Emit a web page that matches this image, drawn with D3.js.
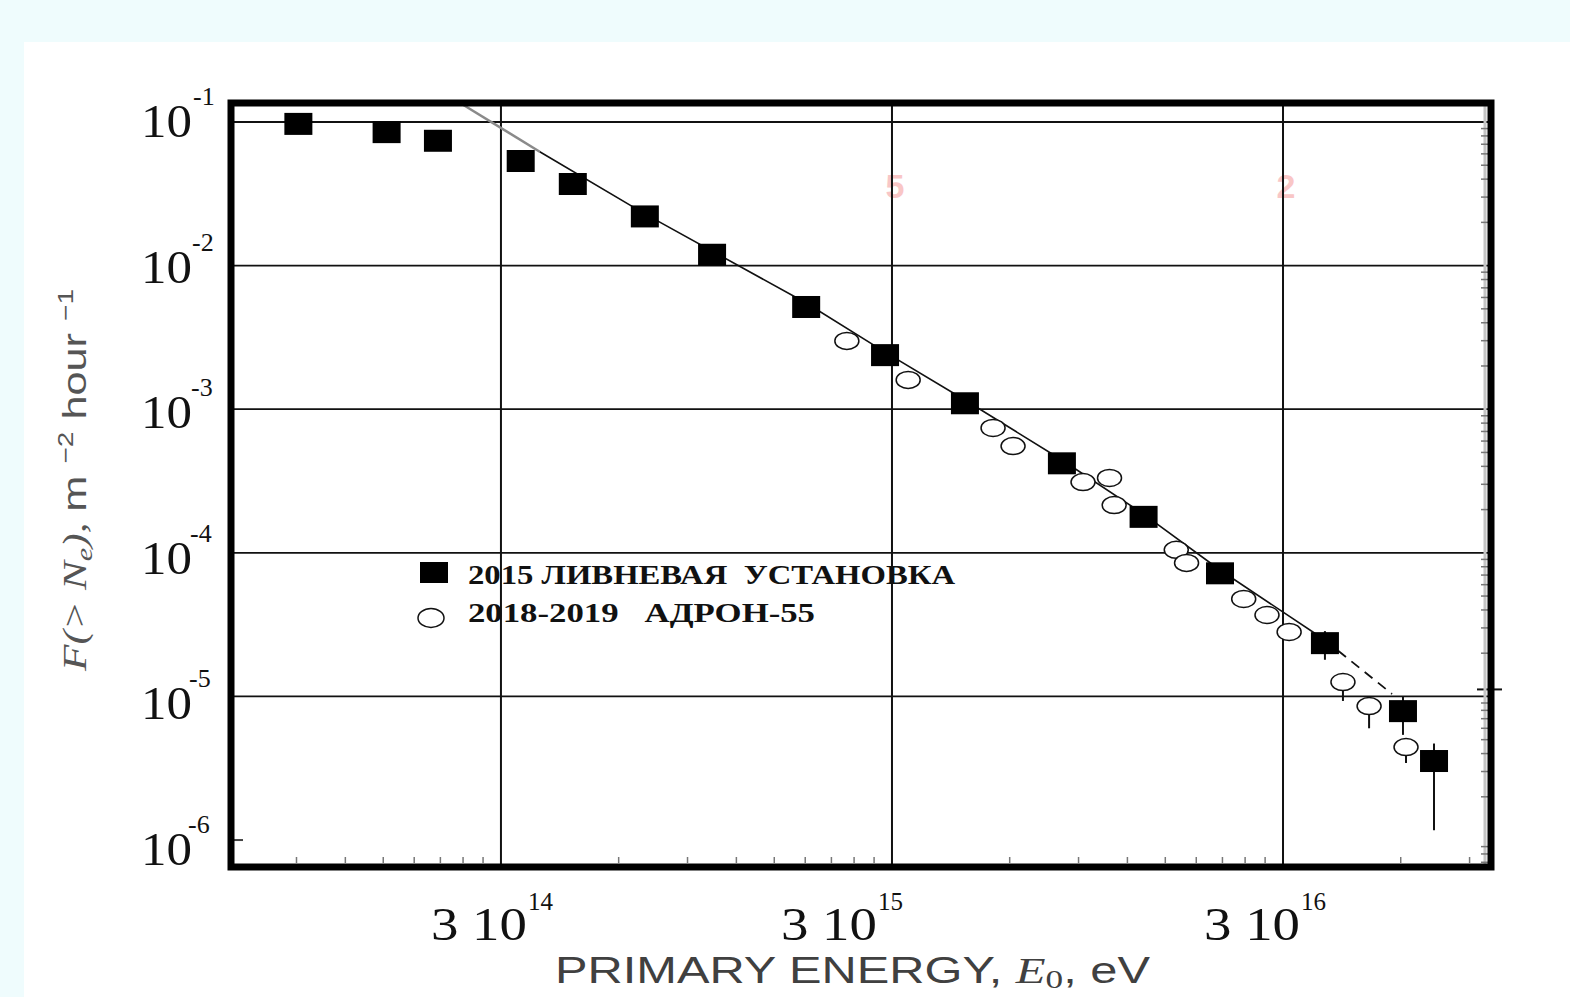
<!DOCTYPE html>
<html>
<head>
<meta charset="utf-8">
<script src="https://cdn.jsdelivr.net/npm/d3@7"></script>
<style>
body { margin: 0; background: #effcfd; }
svg { display: block; }
</style>
</head>
<body>
<svg id="chart" width="1570" height="997"></svg>
<script>
"use strict";
//2015 shower array (filled squares)
var showerE = [9.1e13, 1.53e14, 2.07e14, 3.37e14, 4.58e14, 7.0e14, 1.04e15, 1.81e15, 2.88e15,
	4.61e15, 8.16e15, 1.32e16, 2.07e16, 3.84e16, 6.08e16, 7.3e16];
var showerF = [9.7e-2, 8.5e-2, 7.4e-2, 5.35e-2, 3.7e-2, 2.2e-2, 1.19e-2, 5.15e-3, 2.38e-3,
	1.10e-3, 4.2e-4, 1.78e-4, 7.2e-5, 2.35e-5, 7.9e-6, 3.55e-6];
var showerErrHi = [null, null, null, null, null, null, null, null, null,
	null, null, null, null, 2.85e-5, 1.0e-5, 4.7e-6];
var showerErrLo = [null, null, null, null, null, null, null, null, null,
	null, null, null, null, 1.8e-5, 5.4e-6, 1.17e-6];

//2018-2019 hadron-55 (open circles)
var hadronE = [2.30e15, 3.30e15, 5.44e15, 6.12e15, 9.24e15, 1.08e16, 1.11e16, 1.60e16,
	1.70e16, 2.38e16, 2.73e16, 3.11e16, 4.27e16, 4.98e16, 6.19e16];
var hadronF = [2.99e-3, 1.60e-3, 7.4e-4, 5.54e-4, 3.11e-4, 3.32e-4, 2.15e-4, 1.05e-4,
	8.5e-5, 4.77e-5, 3.69e-5, 2.81e-5, 1.26e-5, 8.57e-6, 4.44e-6];
var hadronErrLo = [null, null, null, null, null, null, null, null,
	null, null, null, null, 9.3e-6, 6.0e-6, 3.44e-6];

//fitted spectrum line (last piece dashed)
var fitE = [2.36e14, 3.77e14, 7.0e14, 1.81e15, 2.88e15, 4.61e15, 8.16e15, 1.32e16, 2.07e16, 3.84e16, 5.7e16];
var fitF = [0.1356, 6.2e-2, 2.29e-2, 5.49e-3, 2.50e-3, 1.16e-3, 4.43e-4, 1.86e-4, 7.59e-5, 2.47e-5, 1.04e-5];

var yTicks = [1e-1, 1e-2, 1e-3, 1e-4, 1e-5, 1e-6];
var yTickExp = ["-1", "-2", "-3", "-4", "-5", "-6"];
var xTicks = [3e14, 3e15, 3e16];
var xTickExp = ["14", "15", "16"];

var legendLabels = ["2015 ЛИВНЕВАЯ  УСТАНОВКА", "2018-2019   АДРОН-55"];

var svg = d3.select('#chart');
var serif = "'Liberation Serif', 'Times New Roman', serif";
var sans = "'Liberation Sans', Arial, sans-serif";

var x = d3.scaleLog().domain([6.12e13, 1.021e17]).range([231, 1491]);
var y = d3.scaleLog().domain([6.49e-7, 0.1356]).range([867, 103]);

//white sheet on the cyan slide
svg.append('rect')
	.attr('x', 24).attr('y', 42)
	.attr('width', 1546).attr('height', 955)
	.style('fill', '#ffffff');

//faint red marks left over from the scan
svg.selectAll('.scanMark').data([["5", 3e15], ["2", 3e16]]).enter().append('text')
	.attr('x', function(d){ return x(d[1]) + 3; })
	.attr('y', 198)
	.attr('text-anchor', 'middle')
	.style('font-family', sans)
	.style('font-weight', 'bold')
	.style('font-size', '34px')
	.style('fill', '#f7b4b4')
	.style('opacity', 0.75)
	.text(function(d){ return d[0]; });

//grid
svg.selectAll('.hGrid').data(yTicks.slice(0, 5)).enter().append('line')
	.attr('x1', 231).attr('x2', 1491)
	.attr('y1', function(d){ return y(d); })
	.attr('y2', function(d){ return y(d); })
	.style('stroke', '#111').style('stroke-width', 1.8);
svg.append('line')
	.attr('x1', 231).attr('x2', 243)
	.attr('y1', y(1e-6)).attr('y2', y(1e-6))
	.style('stroke', '#444').style('stroke-width', 2);
svg.append('line')
	.attr('x1', 1477).attr('x2', 1502)
	.attr('y1', y(1e-5) - 7).attr('y2', y(1e-5) - 7)
	.style('stroke', '#111').style('stroke-width', 2);
svg.selectAll('.vGrid').data(xTicks).enter().append('line')
	.attr('x1', function(d){ return x(d); })
	.attr('x2', function(d){ return x(d); })
	.attr('y1', 103).attr('y2', 867)
	.style('stroke', '#111').style('stroke-width', 2);

//minor ticks along the bottom and the right side
var xMinor = [];
[3e13, 3e14, 3e15, 3e16].forEach(function(b){
	for(var k = 2; k <= 9; k++){
		if(b * k > 6.3e13 && b * k < 1e17) xMinor.push(b * k);
	}
});
svg.selectAll('.xMinor').data(xMinor).enter().append('line')
	.attr('x1', function(d){ return x(d); })
	.attr('x2', function(d){ return x(d); })
	.attr('y1', 863).attr('y2', 857)
	.style('stroke', '#777').style('stroke-width', 1.5);
var yMinor = [];
[1e-7, 1e-6, 1e-5, 1e-4, 1e-3, 1e-2, 1e-1].forEach(function(b){
	for(var k = 2; k <= 9; k++){
		if(b * k > 6.6e-7 && b * k < 0.13) yMinor.push(b * k);
	}
});
svg.append('line')
	.attr('x1', 1485).attr('x2', 1485)
	.attr('y1', 106).attr('y2', 864)
	.style('stroke', '#c4c4c4').style('stroke-width', 3);
svg.selectAll('.yMinor').data(yMinor).enter().append('line')
	.attr('x1', 1481).attr('x2', 1488)
	.attr('y1', function(d){ return y(d); })
	.attr('y2', function(d){ return y(d); })
	.style('stroke', '#777').style('stroke-width', 1.5);

//fit line: grey start, solid body, dashed tail
var fitPts = fitE.map(function(e, i){ return [x(e), y(fitF[i])]; });
var lineGen = d3.line();
svg.append('path')
	.attr('d', lineGen(fitPts.slice(0, 2)))
	.style('fill', 'none').style('stroke', '#8a8a8a').style('stroke-width', 2.5);
svg.append('path')
	.attr('d', lineGen(fitPts.slice(1, fitPts.length - 1)))
	.style('fill', 'none').style('stroke', '#111').style('stroke-width', 1.6);
svg.append('path')
	.attr('d', lineGen(fitPts.slice(fitPts.length - 2)))
	.style('fill', 'none').style('stroke', '#111').style('stroke-width', 1.8)
	.style('stroke-dasharray', '10,7');

//error bars
showerE.forEach(function(e, i){
	if(showerErrHi[i] === null) return;
	svg.append('line')
		.attr('x1', x(e)).attr('x2', x(e))
		.attr('y1', y(showerErrHi[i])).attr('y2', y(showerErrLo[i]))
		.style('stroke', '#111').style('stroke-width', 2);
});
hadronE.forEach(function(e, i){
	if(hadronErrLo[i] === null) return;
	svg.append('line')
		.attr('x1', x(e)).attr('x2', x(e))
		.attr('y1', y(hadronF[i])).attr('y2', y(hadronErrLo[i]))
		.style('stroke', '#111').style('stroke-width', 2);
});

//points
svg.selectAll('.hadron').data(hadronE).enter().append('ellipse')
	.attr('cx', function(d){ return x(d); })
	.attr('cy', function(d, i){ return y(hadronF[i]); })
	.attr('rx', 12).attr('ry', 8.5)
	.style('fill', '#ffffff').style('stroke', '#111').style('stroke-width', 1.5);
svg.selectAll('.shower').data(showerE).enter().append('rect')
	.attr('x', function(d){ return x(d) - 14; })
	.attr('y', function(d, i){ return y(showerF[i]) - 11; })
	.attr('width', 28).attr('height', 22)
	.style('fill', '#000');

//frame
svg.append('rect')
	.attr('x', 231).attr('y', 103)
	.attr('width', 1260).attr('height', 764)
	.style('fill', 'none').style('stroke', '#000').style('stroke-width', 7);

//y tick labels: 10 with the exponent raised
yTicks.forEach(function(v, i){
	var base = y(v) + 15 + 2 * i;
	svg.append('text')
		.attr('x', 192).attr('y', base)
		.attr('text-anchor', 'end')
		.attr('textLength', 51).attr('lengthAdjust', 'spacingAndGlyphs')
		.style('font-family', serif).style('font-size', '46px').style('fill', '#111')
		.text('10');
	svg.append('text')
		.attr('x', 193 - i).attr('y', base - 32)
		.style('font-family', serif).style('font-size', '26px').style('fill', '#111')
		.text(yTickExp[i]);
});

//x tick labels, each sits a bit differently against its grid line
var xLabelDx = [26, -15, 17];
xTicks.forEach(function(v, i){
	svg.append('text')
		.attr('x', x(v) + xLabelDx[i]).attr('y', 940)
		.attr('text-anchor', 'end')
		.attr('textLength', 96).attr('lengthAdjust', 'spacingAndGlyphs')
		.style('font-family', serif).style('font-size', '46px').style('fill', '#111')
		.text('3 10');
	svg.append('text')
		.attr('x', x(v) + xLabelDx[i] + 1).attr('y', 910)
		.style('font-family', serif).style('font-size', '25px').style('fill', '#111')
		.text(xTickExp[i]);
});

//axis titles
var xTitle = svg.append('text')
	.attr('x', 555).attr('y', 983)
	.attr('textLength', 595).attr('lengthAdjust', 'spacingAndGlyphs')
	.style('font-family', sans).style('font-size', '36px').style('fill', '#404040');
xTitle.append('tspan').text('PRIMARY ENERGY, ');
xTitle.append('tspan').style('font-family', serif).style('font-style', 'italic').text('E');
xTitle.append('tspan').attr('dy', 5).style('font-family', serif).style('font-size', '26px').text('0');
xTitle.append('tspan').attr('dy', -5).text(', eV');

var yTitle = svg.append('text')
	.attr('transform', 'translate(86,480) rotate(-90)')
	.attr('text-anchor', 'middle')
	.attr('textLength', 382).attr('lengthAdjust', 'spacingAndGlyphs')
	.style('font-family', sans).style('font-size', '34px').style('fill', '#555');
yTitle.append('tspan').style('font-family', serif).style('font-style', 'italic').text('F(> N');
yTitle.append('tspan').attr('dy', 6).style('font-family', serif).style('font-style', 'italic')
	.style('font-size', '24px').text('e');
yTitle.append('tspan').attr('dy', -6).style('font-family', serif).style('font-style', 'italic').text('), ');
yTitle.append('tspan').text('m ');
yTitle.append('tspan').attr('dy', -13).style('font-size', '22px').text('\u22122');
yTitle.append('tspan').attr('dy', 13).text(' hour ');
yTitle.append('tspan').attr('dy', -13).style('font-size', '22px').text('\u22121');

//legend
svg.append('rect')
	.attr('x', 420).attr('y', 562).attr('width', 28).attr('height', 21)
	.style('fill', '#000');
svg.append('ellipse')
	.attr('cx', 431).attr('cy', 618).attr('rx', 13).attr('ry', 9.5)
	.style('fill', '#fff').style('stroke', '#111').style('stroke-width', 1.5);
var legendWidths = [487, 347];
var legendBase = [584, 622];
legendLabels.forEach(function(t, i){
	svg.append('text')
		.attr('x', 468).attr('y', legendBase[i])
		.attr('textLength', legendWidths[i]).attr('lengthAdjust', 'spacingAndGlyphs')
		.style('font-family', serif).style('font-weight', 'bold')
		.style('font-size', '27px').style('fill', '#111')
		.style('white-space', 'pre')
		.text(t);
});
</script>
</body>
</html>
